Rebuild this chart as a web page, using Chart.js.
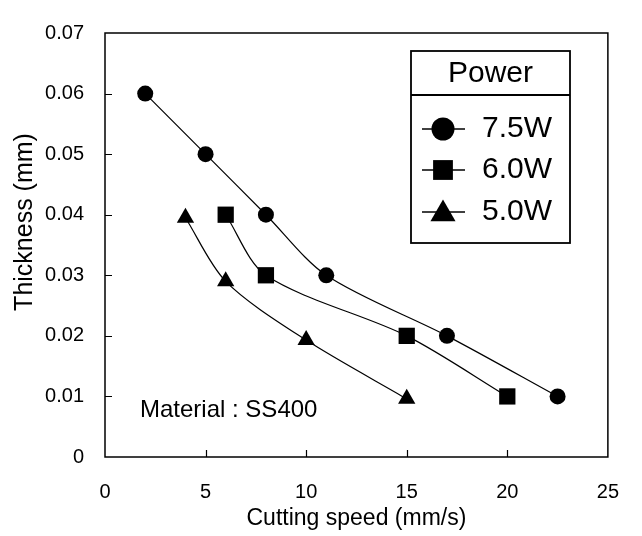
<!DOCTYPE html>
<html>
<head>
<meta charset="utf-8">
<script src="https://cdn.jsdelivr.net/npm/chart.js@4.4.0/dist/chart.umd.min.js"></script>
<style>
html,body{margin:0;padding:0;background:#fff;}
#wrap{width:642px;height:536px;position:relative;}
</style>
</head>
<body>
<div id="wrap"><canvas id="c" width="642" height="536"></canvas></div>
<script>
// ---- data ----
const seriesNames = ['7.5W', '6.0W', '5.0W'];
const speed75 = [2, 5, 8, 11, 17, 22.5];
const thick75 = [0.060, 0.050, 0.040, 0.030, 0.020, 0.010];
const speed60 = [6, 8, 15, 20];
const thick60 = [0.040, 0.030, 0.020, 0.010];
const speed50 = [4, 6, 10, 15];
const thick50 = [0.0395, 0.029, 0.0193, 0.0096];
const xTicks = [0, 5, 10, 15, 20, 25];
const yTicks = [0, 0.01, 0.02, 0.03, 0.04, 0.05, 0.06, 0.07];
const xTitle = 'Cutting speed (mm/s)';
const yTitle = 'Thickness (mm)';
const legendTitle = 'Power';
const noteText = 'Material : SS400';

const FONT = "'Liberation Sans', Arial, sans-serif";
const pts = (xs, ys) => xs.map((x, i) => ({x: x, y: ys[i]}));

function drawMarker(ctx, style, r, x, y) {
  ctx.beginPath();
  if (style === 'circle') {
    ctx.arc(x, y, r, 0, Math.PI * 2);
  } else if (style === 'rect') {
    const s = r * Math.SQRT1_2;
    ctx.rect(x - s, y - s, 2 * s, 2 * s);
  } else if (style === 'triangle') {
    ctx.moveTo(x, y - r);
    ctx.lineTo(x + Math.sin(2 * Math.PI / 3) * r, y + r / 2);
    ctx.lineTo(x - Math.sin(2 * Math.PI / 3) * r, y + r / 2);
    ctx.closePath();
  }
  ctx.fill();
}

const framePlugin = {
  id: 'frame',
  afterDraw(chart) {
    const ctx = chart.ctx;
    const a = chart.chartArea;
    const xs = chart.scales.x, ys = chart.scales.y;
    ctx.save();
    ctx.strokeStyle = '#000';
    ctx.fillStyle = '#000';
    ctx.lineWidth = 1.5;
    ctx.strokeRect(a.left, a.top, a.right - a.left, a.bottom - a.top);
    ctx.lineWidth = 1.2;
    ctx.beginPath();
    xTicks.slice(1, -1).forEach(v => {
      const p = Math.round(xs.getPixelForValue(v)) + 0.5;
      ctx.moveTo(p, a.bottom); ctx.lineTo(p, a.bottom - 7);
    });
    yTicks.slice(1, -1).forEach(v => {
      const p = Math.round(ys.getPixelForValue(v)) + 0.5;
      ctx.moveTo(a.left, p); ctx.lineTo(a.left + 7, p);
    });
    ctx.stroke();

    // y axis title
    ctx.save();
    ctx.translate(25, 222);
    ctx.rotate(-Math.PI / 2);
    ctx.font = '25px ' + FONT;
    ctx.textAlign = 'center';
    ctx.textBaseline = 'middle';
    ctx.fillText(yTitle, 0, 0);
    ctx.restore();

    // note
    ctx.font = '24px ' + FONT;
    ctx.textAlign = 'left';
    ctx.textBaseline = 'alphabetic';
    ctx.fillText(noteText, 140, 417);

    // legend box
    const bx = 411, by = 51, bw = 159, bh = 192;
    ctx.lineWidth = 1.8;
    ctx.strokeRect(bx, by, bw, bh);
    ctx.beginPath();
    ctx.moveTo(bx, 95); ctx.lineTo(bx + bw, 95);
    ctx.stroke();
    ctx.font = '30px ' + FONT;
    ctx.textAlign = 'center';
    ctx.textBaseline = 'middle';
    ctx.fillText(legendTitle, bx + bw / 2, 74);
    const rowY = [129, 170, 212];
    const legR = {circle: 11.5, rect: 14, triangle: 14.5};
    chart.data.datasets.forEach((ds, i) => {
      const y = rowY[i];
      ctx.lineWidth = 1.5;
      ctx.beginPath();
      ctx.moveTo(422, y); ctx.lineTo(465, y);
      ctx.stroke();
      drawMarker(ctx, ds.pointStyle, legR[ds.pointStyle], 443, ds.pointStyle === 'triangle' ? y + 2 : y);
      ctx.textAlign = 'left';
      ctx.fillText(ds.label, 482, y);
    });
    ctx.restore();
  }
};

const common = {
  showLine: true,
  borderColor: '#000',
  backgroundColor: '#000',
  pointBackgroundColor: '#000',
  pointBorderColor: '#000',
  pointBorderWidth: 0,
  borderWidth: 1.2,
  tension: 0.3,
  pointHoverRadius: 0
};

new Chart(document.getElementById('c'), {
  type: 'scatter',
  data: {
    datasets: [
      Object.assign({label: seriesNames[0], data: pts(speed75, thick75), pointStyle: 'circle', pointRadius: 8}, common),
      Object.assign({label: seriesNames[1], data: pts(speed60, thick60), pointStyle: 'rect', pointRadius: 11.5}, common),
      Object.assign({label: seriesNames[2], data: pts(speed50, thick50), pointStyle: 'triangle', pointRadius: 10}, common)
    ]
  },
  options: {
    responsive: false,
    animation: false,
    devicePixelRatio: 1,
    layout: {padding: {top: 15, right: 29, left: 0, bottom: 0}},
    plugins: {legend: {display: false}, tooltip: {enabled: false}},
    scales: {
      x: {
        type: 'linear', min: 0, max: 25,
        afterBuildTicks: s => { s.ticks = xTicks.map(v => ({value: v})); },
        afterFit: s => { s.height = 79; },
        grid: {display: false, drawTicks: false}, border: {display: false},
        ticks: {color: '#000', padding: 23, font: {size: 20, family: FONT}, callback: v => String(v), maxRotation: 0},
        title: {display: true, text: xTitle, color: '#000', font: {size: 23, family: FONT}, padding: {top: 0, bottom: 4}}
      },
      y: {
        type: 'linear', min: 0, max: 0.07,
        afterBuildTicks: s => { s.ticks = yTicks.map(v => ({value: v})); },
        afterFit: s => { s.width = 105; },
        grid: {display: false, drawTicks: false}, border: {display: false},
        ticks: {color: '#000', padding: 21, font: {size: 20, family: FONT}, callback: v => v === 0 ? '0' : v.toFixed(2)},
        title: {display: false, text: yTitle}
      }
    }
  },
  plugins: [framePlugin]
});
</script>
</body>
</html>
